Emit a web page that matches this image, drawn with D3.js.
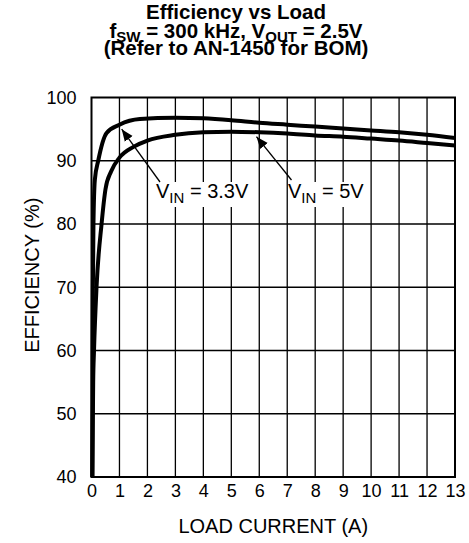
<!DOCTYPE html>
<html>
<head>
<meta charset="utf-8">
<script src="https://cdn.jsdelivr.net/npm/d3@7"></script>
<style>
  html, body { margin: 0; padding: 0; background: #fff; }
  svg text { font-family: "Liberation Sans", Arial, Helvetica, sans-serif; }
</style>
</head>
<body>
<svg id="chart" width="469" height="543"></svg>
<script>
// ---- data ----
const xTicks = [0,1,2,3,4,5,6,7,8,9,10,11,12,13];
const yTicks = [40,50,60,70,80,90,100];

const load33 = [0.03,0.04,0.05,0.07,0.12,0.24,0.54,1.0,1.73,3,4,5,6,7,8,9,10,11,12,13];
const eff33  = [40,60,70,80,87,90,94.4,95.7,96.6,96.8,96.7,96.4,96.0,95.7,95.4,95.1,94.8,94.5,94.1,93.6];

const load5 = [0.03,0.06,0.09,0.18,0.36,0.5,0.7,1.0,1.5,2,3,4,5,6,7,8,9,10,11,12,13];
const eff5  = [40,55,60,70,80,85.5,88.3,90.5,92.2,93.2,94.1,94.5,94.6,94.5,94.3,94.0,93.8,93.5,93.2,92.8,92.4];

const titleLines = ["Efficiency vs Load", "(Refer to AN-1450 for BOM)"];

// ---- layout ----
const svg = d3.select("#chart");
const L = 91.5, R = 455, T = 97.5, B = 477;
const x = d3.scaleLinear().domain([0,13]).range([L,R]);
const y = d3.scaleLinear().domain([40,100]).range([B,T]);

// title
const tg = svg.append("g").attr("font-weight","bold").attr("font-size",20.5).attr("text-anchor","middle");
tg.append("text").attr("x",236).attr("y",18.5).text(titleLines[0]);
const t2 = tg.append("text").attr("x",236).attr("y",37.5);
t2.append("tspan").text("f");
t2.append("tspan").attr("font-size",15).attr("dy",4).text("SW");
t2.append("tspan").attr("dy",-4).text(" = 300 kHz, V");
t2.append("tspan").attr("font-size",15).attr("dy",4).text("OUT");
t2.append("tspan").attr("dy",-4).text(" = 2.5V");
tg.append("text").attr("x",236).attr("y",55).text(titleLines[1]);

// grid
const grid = svg.append("g").attr("stroke","#000").attr("stroke-width",1.3);
grid.selectAll("line.v").data(xTicks.slice(1,-1)).join("line")
  .attr("x1",d=>x(d)).attr("x2",d=>x(d)).attr("y1",T).attr("y2",B);
grid.selectAll("line.h").data(yTicks.slice(1,-1)).join("line")
  .attr("y1",d=>y(d)).attr("y2",d=>y(d)).attr("x1",L).attr("x2",R);
svg.append("rect").attr("x",L).attr("y",T).attr("width",R-L).attr("height",B-T)
  .attr("fill","none").attr("stroke","#000").attr("stroke-width",2);

// axes (labels only)
const xAxis = svg.append("g").attr("transform",`translate(0,${B})`)
  .call(d3.axisBottom(x).tickValues(xTicks).tickSize(0).tickPadding(5));
xAxis.select(".domain").remove();
xAxis.selectAll("text").attr("font-size",18).attr("fill","#000").attr("dy","0.85em");
const yAxis = svg.append("g").attr("transform",`translate(${L},0)`)
  .call(d3.axisLeft(y).tickValues(yTicks).tickSize(0).tickPadding(15));
yAxis.select(".domain").remove();
yAxis.selectAll("text").attr("font-size",18).attr("fill","#000");

svg.append("text").attr("x",(L+R)/2).attr("y",533).attr("text-anchor","middle")
  .attr("font-size",20).text("LOAD CURRENT (A)");
svg.append("text").attr("transform",`translate(39,${(T+B)/2-12}) rotate(-90)`)
  .attr("text-anchor","middle").attr("font-size",20).text("EFFICIENCY (%)");

// curves
const line = d3.line().x(d=>x(d[0])).y(d=>y(d[1])).curve(d3.curveMonotoneX);
const s33 = load33.map((v,i)=>[v,eff33[i]]);
const s5 = load5.map((v,i)=>[v,eff5[i]]);
svg.append("path").datum(s5).attr("d",line).attr("fill","none").attr("stroke","#000").attr("stroke-width",4);
svg.append("path").datum(s33).attr("d",line).attr("fill","none").attr("stroke","#000").attr("stroke-width",4);

// annotations
svg.append("defs").append("marker").attr("id","arr").attr("viewBox","0 0 10 10")
  .attr("refX",10).attr("refY",5).attr("markerWidth",12).attr("markerHeight",12)
  .attr("markerUnits","userSpaceOnUse").attr("orient","auto")
  .append("path").attr("d","M0,1 L10,5 L0,9 Z").attr("fill","#000");

function annot(tx, label, x0, y0, x1, y1, bx, bw) {
  svg.append("rect").attr("x",bx).attr("y",182).attr("width",bw).attr("height",25).attr("fill","#fff");
  svg.append("line").attr("x1",x0).attr("y1",y0).attr("x2",x1).attr("y2",y1)
    .attr("stroke","#000").attr("stroke-width",1.3).attr("marker-end","url(#arr)");
  const t = svg.append("text").attr("x",tx).attr("y",198).attr("font-size",20);
  t.append("tspan").text("V");
  t.append("tspan").attr("font-size",15).attr("dy",5).text("IN");
  t.append("tspan").attr("dy",-5).text(" = " + label);
}
annot(156, "3.3V", 160, 182, x(1.08), y(95.0), 149, 107);
annot(288, "5V", 291.5, 180, x(5.9), y(93.8), 289, 79);
</script>
</body>
</html>
